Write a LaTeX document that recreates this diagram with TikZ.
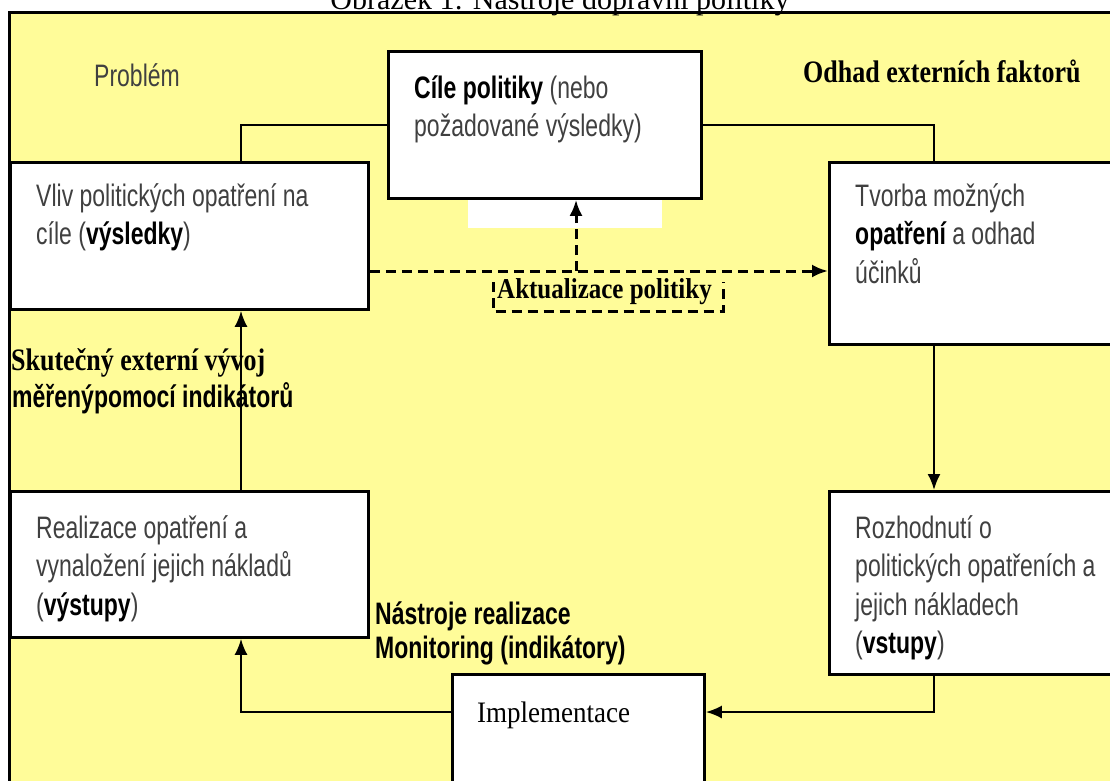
\documentclass[tikz,border=0pt]{standalone}
\usepackage{fontspec}
\setmainfont{Liberation Serif}
\setsansfont{Liberation Sans}
\usetikzlibrary{arrows.meta}
\definecolor{bgyellow}{RGB}{255,252,153}
\definecolor{txtgray}{RGB}{64,64,64}
\newcommand{\mybf}[1]{\textbf{\color{black}#1}}
\begin{document}
\begin{tikzpicture}[x=1pt,y=-1pt,
  box/.style={draw=black, line width=2.8pt, fill=white, inner sep=0pt, anchor=north west},
  btxt/.style={anchor=north west, inner sep=0pt, align=left, text=txtgray,
    font=\sffamily\fontsize{23}{28.5}\selectfont, yscale=1.35},
  sbold/.style={inner sep=0pt, align=left, text=black,
    font=\sffamily\bfseries\fontsize{23}{25.2}\selectfont, yscale=1.35},
  rbold/.style={inner sep=0pt, text=black, font=\rmfamily\bfseries\fontsize{26}{26}\selectfont, yscale=1.2},
  conn/.style={draw=black, line width=2.2pt},
  arr/.style={conn, -{Latex[length=16pt,width=13pt]}},
  darr/.style={draw=black, line width=3pt, dash pattern=on 10pt off 6pt, -{Latex[length=16pt,width=13pt]}},
  dbox/.style={draw=black, line width=3pt, dash pattern=on 10pt off 6pt}
]
\useasboundingbox (0,0) rectangle (1110,780);
\fill[white] (0,0) rectangle (1110,780);
\fill[bgyellow] (9,12) rectangle (1125,795);
\draw[line width=3pt] (9,795) -- (9,12) -- (1125,12);

% title (cut at top)
\node[anchor=base, inner sep=0pt, font=\rmfamily\fontsize{30}{30}\selectfont] (title) at (560,9) {Obrázek 1: Nástroje dopravní politiky};

% helper coordinates
\coordinate (xL) at (241,0);
\coordinate (xR) at (934,0);
\coordinate (xD) at (576,0);
\coordinate (yB) at (0,712);
\coordinate (yD) at (0,271);

% white patch under the goals box
\node[fill=white, inner sep=0pt, minimum width=194pt, minimum height=31pt, anchor=north west] (patch) at (468,197) {};

% boxes
\node[box, minimum width=358pt, minimum height=147pt] (vliv) at (9,161) {};
\node[box, minimum width=313pt, minimum height=147pt] (cile) at (387,50) {};
\node[box, minimum width=300pt, minimum height=182pt] (tvorba) at (828,161) {};
\node[box, minimum width=358pt, minimum height=146pt] (realiz) at (9,490) {};
\node[box, minimum width=300pt, minimum height=183pt] (rozh) at (828,490) {};
\node[box, minimum width=252pt, minimum height=130pt] (impl) at (451,673) {};

% box texts
\node[btxt] (vlivT) at (36,180.4) {\rule{0pt}{19pt}Vliv politických opatření na\\cíle (\mybf{výsledky})};
\node[btxt] (cileT) at (414,72.4) {\rule{0pt}{19pt}\mybf{Cíle politiky} (nebo\\požadované výsledky)};
\node[btxt] (tvorbaT) at (855,180.4) {\rule{0pt}{19pt}Tvorba možných\\\mybf{opatření} a odhad\\účinků};
\node[btxt] (realizT) at (36,512.4) {\rule{0pt}{19pt}Realizace opatření a\\vynaložení jejich nákladů\\(\mybf{výstupy})};
\node[btxt] (rozhT) at (855,512.4) {\rule{0pt}{19pt}Rozhodnutí o\\politických opatřeních a\\jejich nákladech\\(\mybf{vstupy})};
\node[anchor=base west, inner sep=0pt, font=\rmfamily\fontsize{27}{27}\selectfont, yscale=1.1] (implT) at (477,722) {Implementace};

% free labels
\node[anchor=base west, inner sep=0pt, text=txtgray, font=\sffamily\fontsize{23}{23}\selectfont, yscale=1.35] (problem) at (94,86) {Problém};
\node[rbold, anchor=base west] (odhad) at (803,82) {Odhad externích faktorů};
\node[rbold, anchor=base west] (skut) at (11,370) {Skutečný externí vývoj};
\node[sbold, anchor=base west] (mereny) at (12,407) {měřenýpomocí indikátorů};
\node[sbold, anchor=north west] (nastroje) at (375,598.4) {\rule{0pt}{19pt}Nástroje realizace\\Monitoring (indikátory)};

% dashed update box
\node[inner sep=0pt, minimum width=230pt, minimum height=29pt, anchor=north west] (aktbox) at (493,282) {};
\draw[dbox] (aktbox.north west) -- (aktbox.south west) -- (aktbox.south east) -- (aktbox.north east);
\node[anchor=base west, inner sep=0pt, text=black, font=\rmfamily\bfseries\fontsize{25}{25}\selectfont, yscale=1.15] (akt) at (497,298) {Aktualizace politiky};

% connectors
\draw[conn] (vliv.north -| xL) |- (cile.west);
\draw[conn, line width=1.7pt] (cile.east) -| (tvorba.north -| xR);
\draw[arr] (tvorba.south -| xR) -- (rozh.north -| xR);
\draw[arr] (rozh.south -| xR) |- (impl.east |- yB);
\draw[arr] (impl.west |- yB) -| (realiz.south -| xL);
\draw[arr] (realiz.north -| xL) -- (vliv.south -| xL);
\draw[darr] (vliv.east |- yD) -- (tvorba.west |- yD);
\draw[darr] (xD |- yD) -- (cile.south -| xD);
\end{tikzpicture}
\end{document}
